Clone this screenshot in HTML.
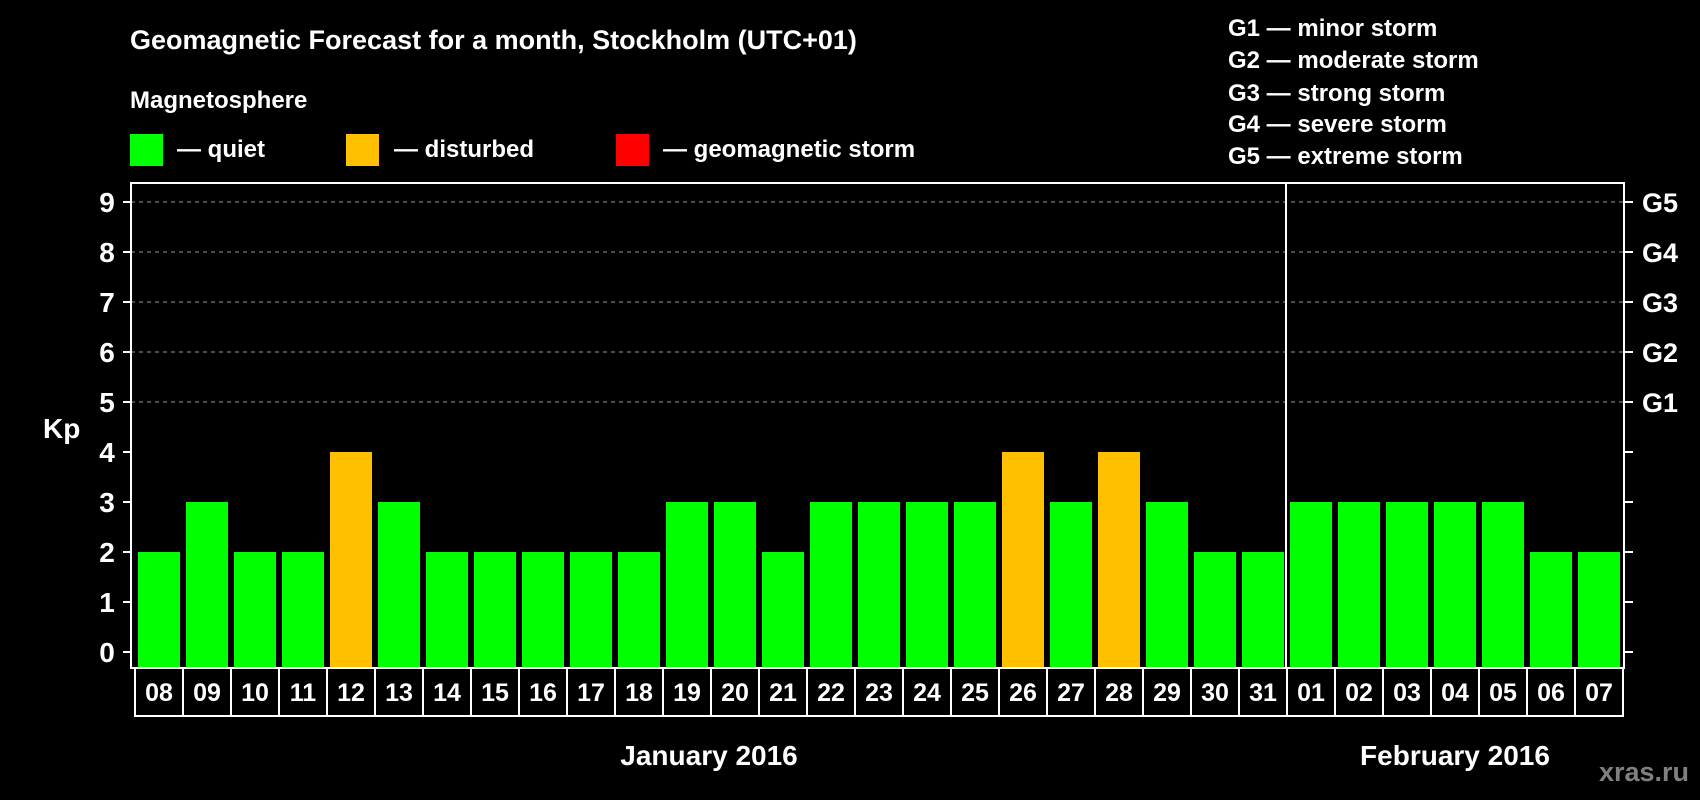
<!DOCTYPE html>
<html><head><meta charset="utf-8"><style>
html,body{margin:0;padding:0;background:#000;}
svg{display:block;font-family:"Liberation Sans",Arial,sans-serif;font-weight:bold;}
</style></head><body>
<svg id="chart" width="1700" height="800" viewBox="0 0 1700 800">
<rect x="0" y="0" width="1700" height="800" fill="#000"/>
<text x="130" y="49" font-size="27" fill="#fff">Geomagnetic Forecast for a month, Stockholm (UTC+01)</text>
<text x="130" y="108" font-size="24" fill="#fff">Magnetosphere</text>
<rect x="130" y="134" width="33" height="32" fill="#00ff00"/>
<text x="177" y="157" font-size="24" fill="#fff">— quiet</text>
<rect x="346" y="134" width="33" height="32" fill="#ffc000"/>
<text x="394" y="157" font-size="24" fill="#fff">— disturbed</text>
<rect x="616" y="134" width="33" height="32" fill="#ff0000"/>
<text x="663" y="157" font-size="24" fill="#fff">— geomagnetic storm</text>
<g font-size="24" fill="#fff">
<text x="1228" y="36">G1 — minor storm</text>
<text x="1228" y="68">G2 — moderate storm</text>
<text x="1228" y="101">G3 — strong storm</text>
<text x="1228" y="132">G4 — severe storm</text>
<text x="1228" y="164">G5 — extreme storm</text>
</g>
<text x="43" y="438" font-size="28" fill="#fff">Kp</text>
<text x="709" y="765" font-size="28" fill="#fff" text-anchor="middle">January 2016</text>
<text x="1455" y="765" font-size="28" fill="#fff" text-anchor="middle">February 2016</text>
<text x="1689" y="781" font-size="27" fill="#808080" text-anchor="end">xras.ru</text>
<g id="plot"></g>
</svg>
<script>
const days = ["08","09","10","11","12","13","14","15","16","17","18","19","20","21","22","23","24","25","26","27","28","29","30","31","01","02","03","04","05","06","07"];
const kp = [2,3,2,2,4,3,2,2,2,2,2,3,3,2,3,3,3,3,4,3,4,3,2,2,3,3,3,3,3,2,2];
const yTicks = [0,1,2,3,4,5,6,7,8,9];
const gLabels = ["G1","G2","G3","G4","G5"];
const gLevels = [5,6,7,8,9];
const monthBreakIndex = 24;

const NS = "http://www.w3.org/2000/svg";
const plot = document.getElementById("plot");
const L = 131, R = 1624, T = 183, B = 668;
const x0 = 135, step = 48;
function y(v){ return 652 - 50 * v; }
function xb(i){ return x0 + step * i; }
function mk(tag, attrs){ const e = document.createElementNS(NS, tag); for (const k in attrs) e.setAttribute(k, attrs[k]); plot.appendChild(e); return e; }

gLevels.forEach(v => {
  const g = mk("line", {x1:L, x2:R, y1:y(v), y2:y(v), stroke:"#999", "stroke-width":1, "stroke-dasharray":"4,4"});
  
  
});
kp.forEach((v, i) => {
  const r = mk("rect", {x:xb(i)+3, y:y(v), width:42, height:B - y(v), fill: v >= 5 ? "#ff0000" : (v >= 4 ? "#ffc000" : "#00ff00")});
  
  
});
const frame = mk("rect", {x:L, y:T, width:R-L, height:B-T, fill:"none", stroke:"#fff", "stroke-width":2});


const div = mk("line", {x1:xb(monthBreakIndex)-1, x2:xb(monthBreakIndex)-1, y1:T, y2:B, stroke:"#fff", "stroke-width":2});


yTicks.forEach(v => {
  const t1 = mk("line", {x1:L-8, x2:L, y1:y(v), y2:y(v), stroke:"#fff", "stroke-width":2});
  
  
  const t2 = mk("line", {x1:R, x2:R+9, y1:y(v), y2:y(v), stroke:"#fff", "stroke-width":2});
  
  
  const tl = mk("text", {x:107, y:y(v)+10, "font-size":28, fill:"#fff", "text-anchor":"middle"});
  tl.textContent = v;
  
  
});
gLevels.forEach((v, i) => {
  const gl = mk("text", {x:1642, y:y(v)+10, "font-size":27, fill:"#fff"});
  gl.textContent = gLabels[i];
  
  
});
days.forEach((d, i) => {
  const bx = mk("rect", {x:xb(i), y:B, width:step, height:48, fill:"#000", stroke:"#fff", "stroke-width":2});
  
  
  const tx = mk("text", {x:xb(i)+step/2, y:701, "font-size":25, fill:"#fff", "text-anchor":"middle"});
  tx.textContent = d;
  
  
});
</script>
</body></html>
